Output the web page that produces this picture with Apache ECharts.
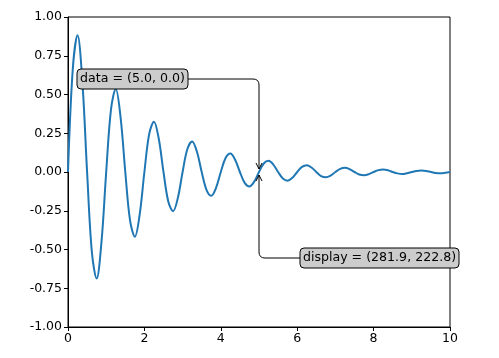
<!DOCTYPE html>
<html>
<head>
<meta charset="utf-8">
<script src="https://cdn.jsdelivr.net/npm/echarts@6/dist/echarts.min.js"></script>
<style>
html,body{margin:0;padding:0;background:#fff;}
#main{width:499px;height:358px;}
</style>
</head>
<body>
<div id="main"></div>
<script>
// x 取值（每 1/8 周期一个点）
var xs = [0,0.125,0.25,0.375,0.5,0.625,0.75,0.875,
  1,1.125,1.25,1.375,1.5,1.625,1.75,1.875,
  2,2.125,2.25,2.375,2.5,2.625,2.75,2.875,
  3,3.125,3.25,3.375,3.5,3.625,3.75,3.875,
  4,4.125,4.25,4.375,4.5,4.625,4.75,4.875,
  5,5.125,5.25,5.375,5.5,5.625,5.75,5.875,
  6,6.125,6.25,6.375,6.5,6.625,6.75,6.875,
  7,7.125,7.25,7.375,7.5,7.625,7.75,7.875,
  8,8.125,8.25,8.375,8.5,8.625,8.75,8.875,
  9,9.125,9.25,9.375,9.5,9.625,9.75,9.875,10];
// 曲线读数
var ys = [0,0.664,0.882,0.586,0,-0.517,-0.687,-0.456,
  0,0.403,0.535,0.356,0,-0.314,-0.417,-0.277,
  0,0.244,0.325,0.216,0,-0.190,-0.253,-0.168,
  0,0.148,0.197,0.131,0,-0.115,-0.153,-0.102,
  0,0.090,0.119,0.079,0,-0.070,-0.093,-0.062,
  0,0.055,0.072,0.048,0,-0.042,-0.056,-0.037,
  0,0.033,0.044,0.029,0,-0.026,-0.034,-0.023,
  0,0.020,0.027,0.018,0,-0.016,-0.021,-0.014,
  0,0.012,0.016,0.011,0,-0.009,-0.013,-0.008,
  0,0.007,0.010,0.007,0,-0.006,-0.008,-0.005,0];
var xTicks = [0,2,4,6,8,10];
var yTicks = [-1.00,-0.75,-0.50,-0.25,0.00,0.25,0.50,0.75,1.00];
// 注释
var annoPoint = [5.0, 0.0];
var dataLabel = 'data = (5.0, 0.0)';
var dispLabel = 'display = (281.9, 222.8)';

var font = 'DejaVu Sans';
var myChart = echarts.init(document.getElementById('main'));
var pts = [];
for (var i = 0; i < xs.length; i++) pts.push([xs[i], ys[i]]);

var option = {
  animation: false,
  grid: {
    left: 68, right: 49, top: 17, bottom: 31,
    show: true, borderColor: '#000', borderWidth: 1, backgroundColor: 'transparent'
  },
  xAxis: {
    type: 'value', min: xTicks[0], max: xTicks[xTicks.length - 1], interval: 2,
    axisLine: {show: true, onZero: false, lineStyle: {color: '#000', width: 1}},
    axisTick: {show: true, inside: false, length: 4, lineStyle: {color: '#000'}},
    splitLine: {show: false},
    axisLabel: {color: '#000', fontFamily: font, fontSize: 12.5, margin: 5,
      formatter: function (v) { return String(v); }}
  },
  yAxis: {
    type: 'value', min: yTicks[0], max: yTicks[yTicks.length - 1], interval: 0.25,
    axisLine: {show: true, onZero: false, lineStyle: {color: '#000', width: 1}},
    axisTick: {show: true, inside: false, length: 4, lineStyle: {color: '#000'}},
    splitLine: {show: false},
    axisLabel: {color: '#000', fontFamily: font, fontSize: 12.5, margin: 6,
      formatter: function (v) { return v.toFixed(2); }}
  },
  series: [{
    type: 'line',
    data: pts,
    smooth: 0.35,
    showSymbol: false,
    lineStyle: {color: '#1f77b4', width: 2},
    z: 2
  }]
};
myChart.setOption(option);

// 注释框和箭头
var p = myChart.convertToPixel({gridIndex: 0}, annoPoint);
var ax = p[0], ay = p[1];
var r = 6;
// data 框
var b1 = {x: ax - 182, y: ay - 103, w: 111, h: 20};
var y1 = b1.y + b1.h / 2;
// display 框
var b2 = {x: ax + 41, y: ay + 76, w: 159, h: 20};
var y2 = b2.y + b2.h / 2;
var tip1 = ay - 3, tip2 = ay + 3;
var ls = {fill: null, stroke: '#000', lineWidth: 1};

function box(b, txt) {
  return [{
    type: 'rect', z: 10,
    shape: {x: b.x, y: b.y, width: b.w, height: b.h, r: 4},
    style: {fill: '#cccccc', stroke: '#000', lineWidth: 1}
  }, {
    type: 'text', z: 11,
    x: b.x + b.w / 2, y: b.y + b.h / 2,
    style: {text: txt, fill: '#000', font: '12.6px "DejaVu Sans"', align: 'center', verticalAlign: 'middle'}
  }];
}

var els = [
  // 上方箭头
  {type: 'line', z: 9, shape: {x1: b1.x + b1.w, y1: y1, x2: ax - r, y2: y1}, style: ls},
  {type: 'bezierCurve', z: 9, shape: {x1: ax - r, y1: y1, x2: ax, y2: y1 + r, cpx1: ax, cpy1: y1}, style: ls},
  {type: 'line', z: 9, shape: {x1: ax, y1: y1 + r, x2: ax, y2: tip1}, style: ls},
  {type: 'polyline', z: 9, shape: {points: [[ax - 3, tip1 - 6], [ax, tip1], [ax + 3, tip1 - 6]]}, style: ls},
  // 下方箭头
  {type: 'line', z: 9, shape: {x1: b2.x, y1: y2, x2: ax + r, y2: y2}, style: ls},
  {type: 'bezierCurve', z: 9, shape: {x1: ax + r, y1: y2, x2: ax, y2: y2 - r, cpx1: ax, cpy1: y2}, style: ls},
  {type: 'line', z: 9, shape: {x1: ax, y1: y2 - r, x2: ax, y2: tip2}, style: ls},
  {type: 'polyline', z: 9, shape: {points: [[ax - 3, tip2 + 6], [ax, tip2], [ax + 3, tip2 + 6]]}, style: ls}
];
els = els.concat(box(b1, dataLabel), box(b2, dispLabel));
myChart.setOption({graphic: els});
</script>
</body>
</html>
